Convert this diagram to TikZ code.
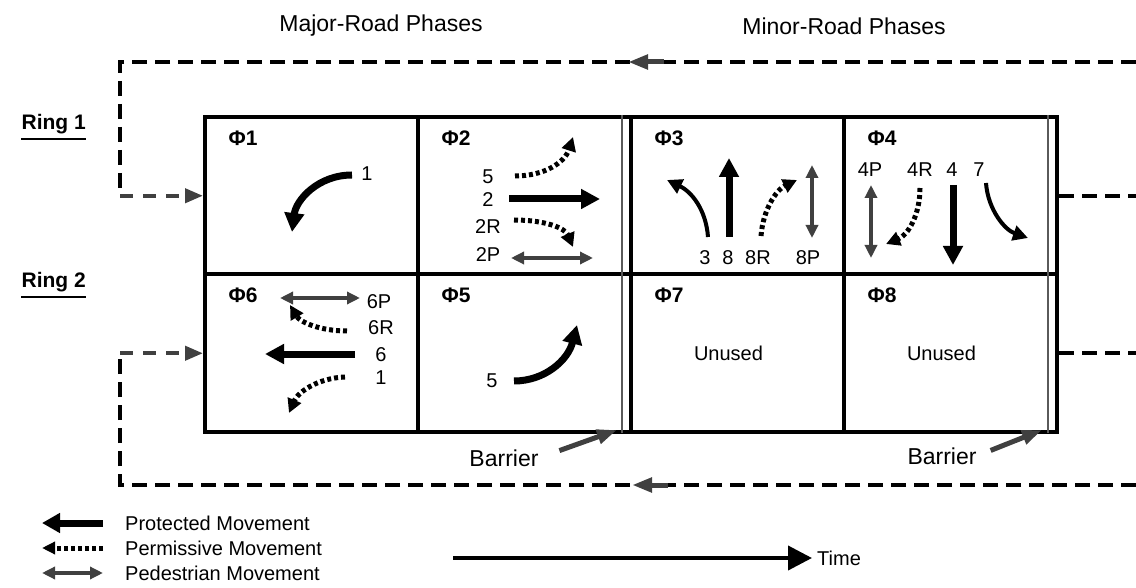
\documentclass[tikz,border=0pt]{standalone}
\usepackage{fontspec}
\setmainfont{Liberation Sans}
\usetikzlibrary{positioning,arrows.meta,calc}
\definecolor{darkgrey}{HTML}{404040}
\definecolor{bargrey}{HTML}{5A5A5A}

\tikzset{
  cell/.style={draw, line width=4pt, minimum width=213pt, minimum height=157.5pt, inner sep=0pt},
  phase/.style={font=\fontsize{21}{24}\selectfont\bfseries, inner sep=0pt},
  lbl/.style={font=\fontsize{20}{24}\selectfont, inner sep=0pt},
  head/.style={font=\fontsize{23}{26}\selectfont, inner sep=0pt},
  ringlbl/.style={font=\fontsize{21}{24}\selectfont\bfseries, inner sep=0pt},
  prot/.style={line width=7pt, -{Triangle[length=19pt,width=19pt]}},
  perm/.style={line width=5pt, dash pattern=on 4pt off 3pt, -{Triangle[length=14pt,width=14pt]}},
  ped/.style={draw=darkgrey, line width=3.5pt, {Triangle[length=13pt,width=12pt]}-{Triangle[length=13pt,width=12pt]}},
  turn/.style={line width=4pt, -{Triangle[length=15pt,width=15pt]}},
  ring/.style={line width=4pt, dash pattern=on 15pt off 8pt},
  ringin/.style={draw=darkgrey, line width=4pt, dash pattern=on 13pt off 10pt, -{Triangle[length=18pt,width=14pt]}},
  flow/.style={draw=darkgrey, line width=5pt, -{Triangle[length=20pt,width=14pt]}},
  barrier/.style={draw=bargrey, line width=2pt},
}

\begin{document}
\begin{tikzpicture}[x=1pt, y=-1pt]
  \useasboundingbox (0,0) rectangle (1136,588);

  % phase boxes
  \foreach \n/\cx/\cy in {1/311.5/195.75, 2/524.5/195.75, 3/737.5/195.75, 4/950.5/195.75,
                          6/311.5/353.25, 5/524.5/353.25, 7/737.5/353.25, 8/950.5/353.25} {
    \node[cell] (p\n) at (\cx,\cy) {};
    \node[phase] (ph\n) at ([xshift=40pt,yshift=-23pt]p\n.north west) {Φ\n};
  }

  % barriers
  \coordinate (b1top) at (622,115);
  \coordinate (b1bot) at (622,433);
  \coordinate (b2top) at (1048,115);
  \coordinate (b2bot) at (1048,433);
  \draw[barrier] (b1top) -- (b1bot);
  \draw[barrier] (b2top) -- (b2bot);

  % headings
  \node[head] (major) at (381,26) {Major-Road Phases};
  \node[head] (minor) at (844,26) {Minor-Road Phases};
  \node[ringlbl, anchor=base east] (ring1) at (86,130) {Ring 1};
  \node[ringlbl, anchor=base east] (ring2) at (86,288) {Ring 2};
  \draw[line width=2pt] ([yshift=-4pt]ring1.south west) -- ([yshift=-4pt]ring1.south east);
  \draw[line width=2pt] ([yshift=-4pt]ring2.south west) -- ([yshift=-4pt]ring2.south east);

  % ring loops
  \coordinate (r1e) at (1136,195.75);
  \coordinate (r1t) at (1136,62);
  \coordinate (r1c) at (120,195.75);
  \coordinate (r2e) at (1136,353.25);
  \coordinate (r2b) at (1136,485);
  \coordinate (r2c) at (120,353.25);
  \draw[ring] (p4.east) -- (r1e);
  \draw[ring] (r1t) -- (120,62) -- (r1c);
  \draw[ringin] (r1c) -- (p1.west);
  \draw[ring] (p8.east) -- (r2e);
  \draw[ring] (r2b) -- (120,485) -- (r2c);
  \draw[ringin] (r2c) -- (p6.west);
  \draw[flow] (664,62) -- (628,62);
  \draw[flow] (668,485) -- (632,485);

  % phase 1
  \node[lbl] (m1a) at (367,174) {1};
  \draw[prot] (352,175) .. controls (318,175) and (296,200) .. (292,232);

  % phase 2
  \node[lbl] (m5a) at (488,177) {5};
  \node[lbl] (m2) at (488,200) {2};
  \node[lbl] (m2R) at (488,227) {2R};
  \node[lbl] (m2P) at (488,255) {2P};
  \draw[perm] (515,176) .. controls (545,176) and (565,162) .. (573,137);
  \draw[prot] (509,199) -- (600,199);
  \draw[perm] (514,220) .. controls (545,220) and (565,228) .. (573,247);
  \draw[ped] (511,258) -- (593,258);

  % phase 3
  \node[lbl] (m3) at (705,258) {3};
  \node[lbl] (m8) at (728,258) {8};
  \node[lbl] (m8R) at (758,258) {8R};
  \node[lbl] (m8P) at (808,258) {8P};
  \draw[turn] (708,237) .. controls (706,210) and (692,192) .. (667,180);
  \draw[prot] (729,237) -- (729,158);
  \draw[perm] (761,236) .. controls (763,210) and (776,190) .. (797,180);
  \draw[ped] (812,165) -- (812,238);

  % phase 4
  \node[lbl] (m4P) at (870,170) {4P};
  \node[lbl] (m4R) at (920,170) {4R};
  \node[lbl] (m4) at (952,170) {4};
  \node[lbl] (m7) at (979,170) {7};
  \draw[ped] (871,185) -- (871,258);
  \draw[perm] (920,188) .. controls (920,215) and (908,235) .. (886,244);
  \draw[prot] (953,185) -- (953,265);
  \draw[turn] (986,183) .. controls (988,210) and (1005,230) .. (1028,238);

  % phase 6
  \node[lbl] (m6P) at (379,302) {6P};
  \node[lbl] (m6R) at (381,328) {6R};
  \node[lbl] (m6) at (381,355) {6};
  \node[lbl] (m1b) at (381,378) {1};
  \draw[ped] (280,298) -- (360,298);
  \draw[perm] (347,331) .. controls (320,331) and (300,322) .. (290,305);
  \draw[prot] (355,354) -- (265,354);
  \draw[perm] (345,377) .. controls (318,378) and (298,392) .. (289,413);

  % phase 5
  \node[lbl] (m5b) at (492,381) {5};
  \draw[prot] (514,381) .. controls (545,381) and (568,360) .. (577,325);

  % unused phases
  \node[lbl] (u7) at ([xshift=-9pt]p7.center) {Unused};
  \node[lbl] (u8) at ([xshift=-9pt]p8.center) {Unused};

  % barrier labels
  \node[head] (bar1) at (504,458) {Barrier};
  \node[head] (bar2) at (942,456) {Barrier};
  \draw[flow, shorten <=22pt] (bar1.east) -- ([xshift=-5pt,yshift=3pt]b1bot);
  \draw[flow, shorten <=15pt] (bar2.east) -- ([xshift=-6pt,yshift=3pt]b2bot);

  % legend
  \node[lbl, anchor=west] (lprot) at (125,523) {Protected Movement};
  \node[lbl, anchor=west] (lperm) at (125,548) {Permissive Movement};
  \node[lbl, anchor=west] (lped) at (125,573) {Pedestrian Movement};
  \draw[line width=7pt, -{Triangle[length=18pt,width=19pt]}] ([xshift=-22pt]lprot.west) -- ([xshift=-83pt]lprot.west);
  \draw[line width=5pt, dash pattern=on 4pt off 3pt, -{Triangle[length=13pt,width=12pt]}] ([xshift=-22pt]lperm.west) -- ([xshift=-83pt]lperm.west);
  \draw[ped] ([xshift=-83pt]lped.west) -- ([xshift=-22pt]lped.west);

  % time axis
  \coordinate (t0) at (453,558);
  \node[lbl, anchor=west, inner sep=5pt] (time) at (812,558) {Time};
  \draw[line width=4pt, -{Triangle[length=24pt,width=24pt]}] (t0) -- (time.west);
\end{tikzpicture}
\end{document}
